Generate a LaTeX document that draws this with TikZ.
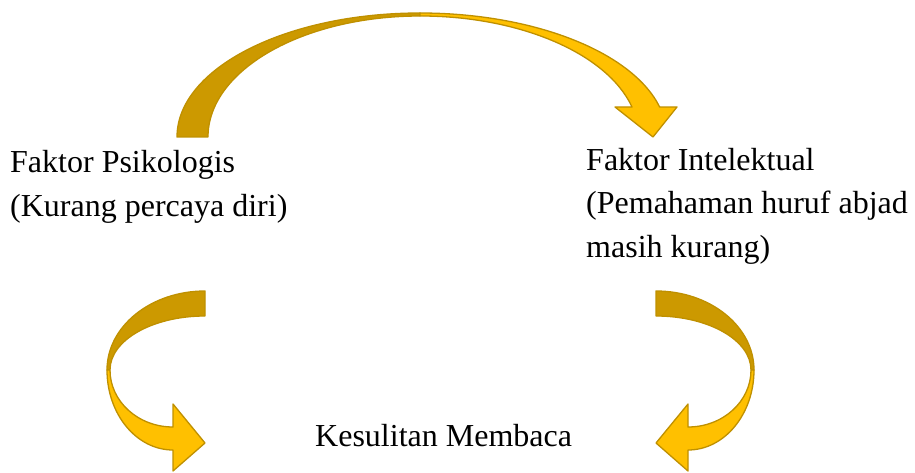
\documentclass[tikz,border=0pt]{standalone}
\usepackage{fontspec}
\setmainfont{Liberation Serif}
\usepackage{tikz}
\definecolor{emasgelap}{HTML}{CC9900}
\definecolor{emas}{HTML}{FFC000}
\definecolor{garisemas}{HTML}{BF9000}
\tikzset{
  belakang/.style={fill=emasgelap,draw=garisemas,line width=1.3pt,line join=round},
  depan/.style={fill=emas,draw=garisemas,line width=1.3pt,line join=round},
  teks/.style={font=\fontsize{32}{43.5}\selectfont,align=left,inner sep=0pt}
}

\begin{document}
\begin{tikzpicture}[x=1pt,y=1pt]
\useasboundingbox (0,0) rectangle (915,472);
% panah atas
\draw[belakang] (177,335) arc[start angle=180,end angle=90,x radius=243,y radius=124]
  -- (420,456) arc[start angle=90,end angle=180,x radius=212,y radius=121] -- cycle;
\draw[depan] (420,459) arc[start angle=90,end angle=14,x radius=247,y radius=124]
  -- (677,365) -- (653,335) -- (615,365) -- (632,365)
  arc[start angle=14.35,end angle=90,x radius=218.8,y radius=121] -- cycle;
% panah kiri bawah
\draw[belakang] (205,181) arc[start angle=90,end angle=180,x radius=98,y radius=79]
  -- (110,102) arc[start angle=180,end angle=90,x radius=95,y radius=54] -- cycle;
\draw[depan] (107,102) arc[start angle=180,end angle=270,x radius=66,y radius=80]
  -- (173,1) -- (205,29) -- (173,68) -- (173,45)
  arc[start angle=270,end angle=180,x radius=63,y radius=57] -- cycle;
% panah kanan bawah
\draw[belakang] (656,181) arc[start angle=90,end angle=0,x radius=98,y radius=79]
  -- (751,102) arc[start angle=0,end angle=90,x radius=95,y radius=54] -- cycle;
\draw[depan] (754,102) arc[start angle=0,end angle=-90,x radius=66,y radius=80]
  -- (688,1) -- (656,29) -- (688,68) -- (688,45)
  arc[start angle=-90,end angle=0,x radius=63,y radius=57] -- cycle;
% teks (base = baris terakhir)
\node[teks,anchor=base west] (psikologis) at (10,256) {Faktor Psikologis\\(Kurang percaya diri)};
\node[teks,anchor=base west] (intelektual) at (586,215) {Faktor Intelektual\\(Pemahaman huruf abjad\\masih kurang)};
\node[teks,anchor=base west] (kesulitan) at (315,26) {Kesulitan Membaca};
\end{tikzpicture}
\end{document}
